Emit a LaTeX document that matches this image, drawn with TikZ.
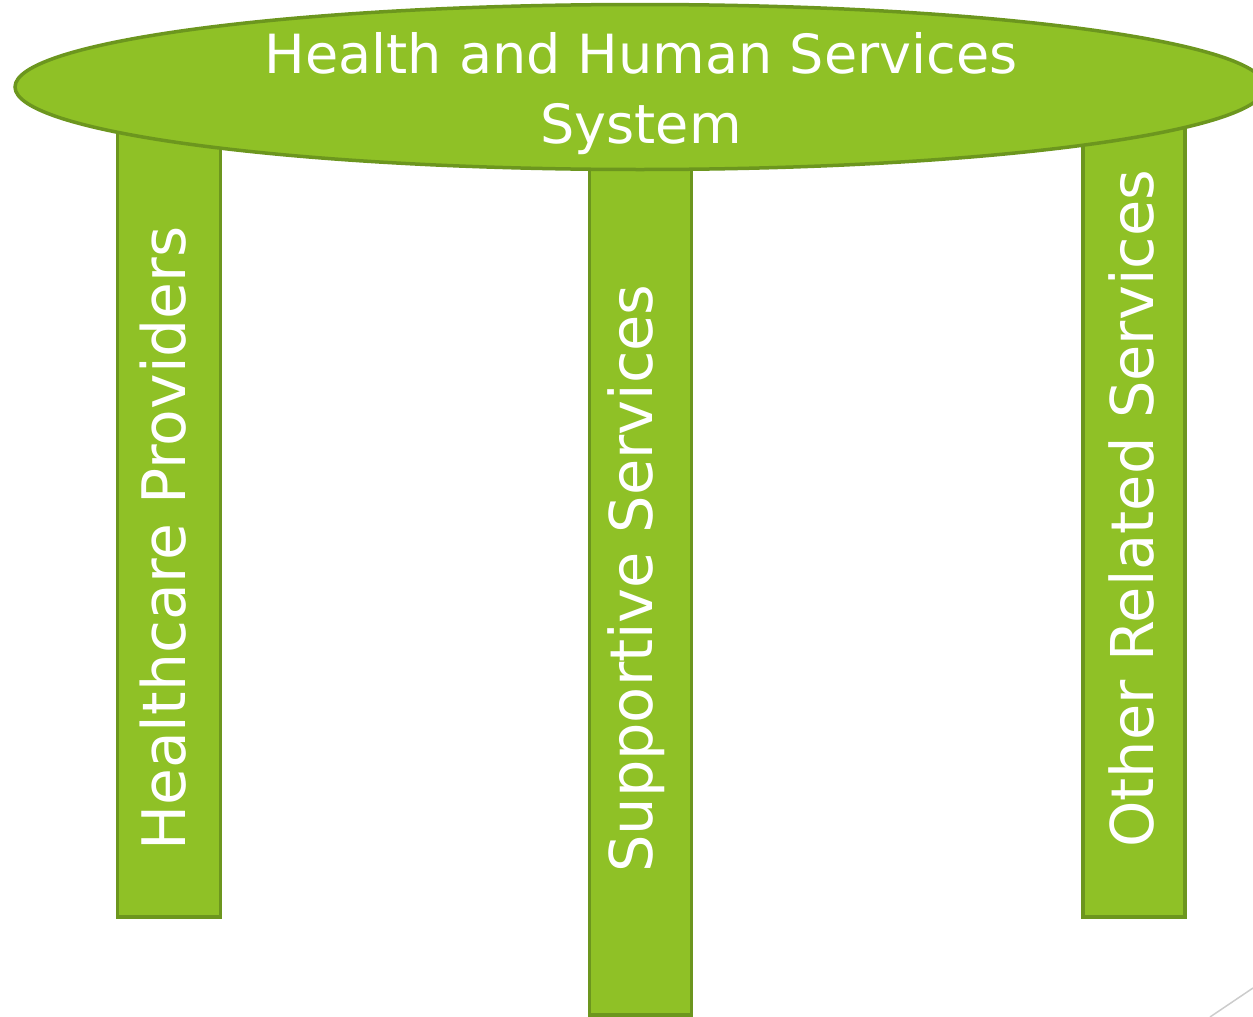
\documentclass[tikz,border=0pt]{standalone}
\usepackage{fontspec}
\setmainfont{DejaVu Sans}
\usetikzlibrary{shapes.geometric}
\definecolor{leaf}{RGB}{143,193,38}
\definecolor{leafdark}{RGB}{108,150,30}

\begin{document}
\begin{tikzpicture}[x=1pt, y=-1pt,
		leg/.style={draw=leafdark, fill=leaf, line width=3.5pt, inner sep=0pt, anchor=north},
		legtext/.style={text=white, rotate=90, anchor=base west, inner sep=0pt, font=\fontsize{59}{70}\selectfont}]
		\useasboundingbox (0,0) rectangle (1253,1017);
		\node (hpbar)[leg, minimum width=103pt, minimum height=815pt] at(169,100) {};
		\node (ssbar)[leg, minimum width=102pt, minimum height=913pt] at(640.5,100) {};
		\node (orbar)[leg, minimum width=102pt, minimum height=815pt] at(1134,100) {};
		\node (hhs)[draw=leafdark, fill=leaf, line width=3.5pt, ellipse, inner sep=0pt, minimum width=1250pt, minimum height=165pt] at(640,87) {};
		\node (title)[text=white, align=center, inner sep=0pt, font=\fontsize{54}{70}\selectfont] at(641,94) {Health and Human Services\\System};
		\node (hp)[legtext, font=\fontsize{60}{70}\selectfont] at(185,851) {Healthcare Providers};
		\node (ss)[legtext] at(652,873) {Supportive Services};
		\node (or)[legtext] at(1153,848) {Other Related Services};
		\coordinate (c1) at(1210,1017);
		\coordinate (c2) at(1253,988);
		\draw [black!20, line width=1.5pt](c1)--(c2);
	\end{tikzpicture}
\end{document}
